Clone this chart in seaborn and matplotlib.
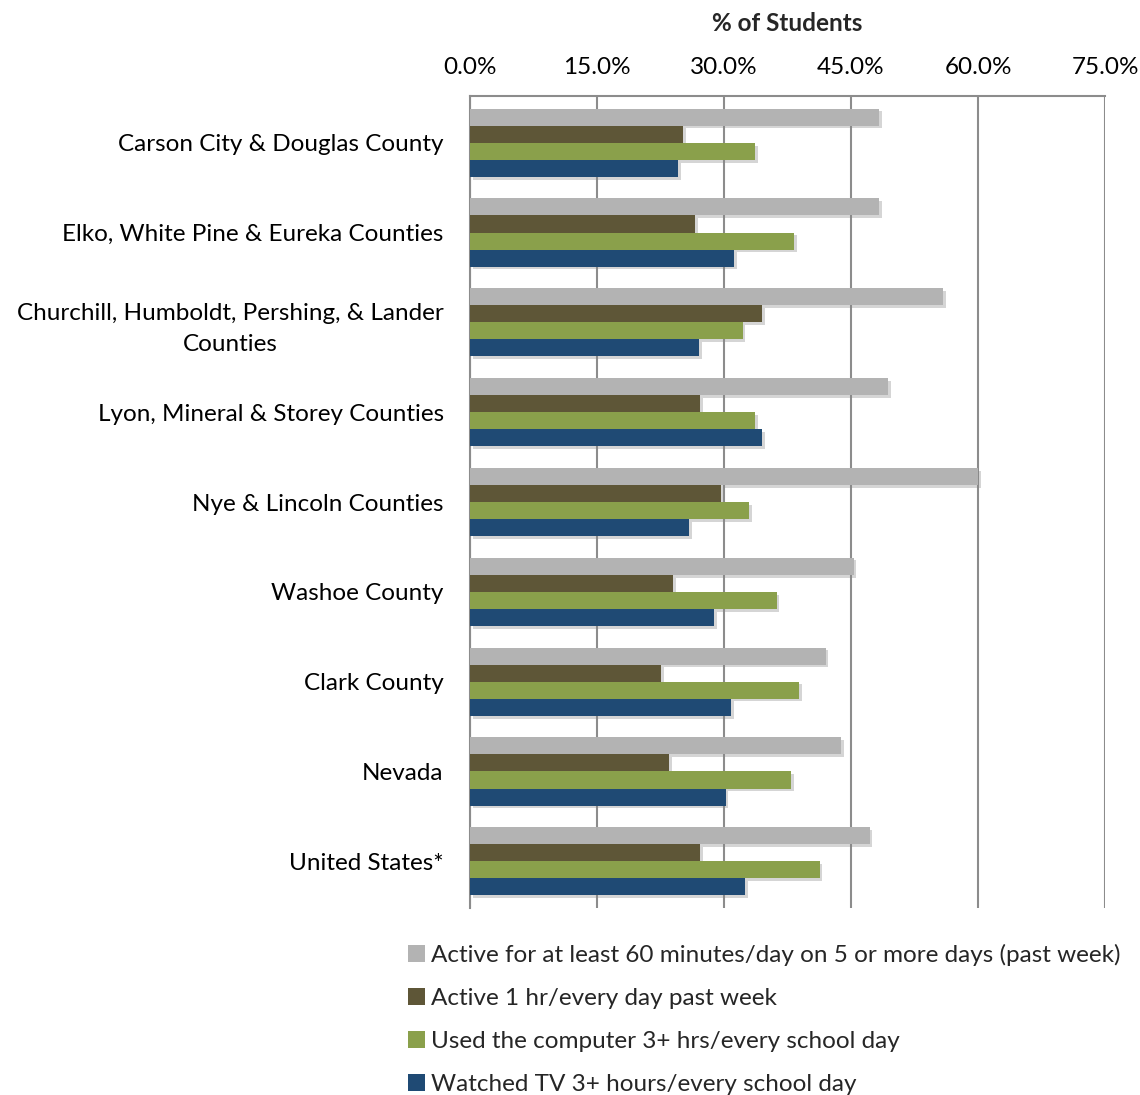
import matplotlib

matplotlib.use("Agg")
import matplotlib.pyplot as plt
import matplotlib.patheffects as pe
from matplotlib.patches import Patch
from matplotlib.ticker import FuncFormatter, MultipleLocator
import pandas as pd
import seaborn as sns

REGIONS = [
    "Carson City & Douglas County",
    "Elko, White Pine & Eureka Counties",
    "Churchill, Humboldt, Pershing, & Lander\nCounties",
    "Lyon, Mineral & Storey Counties",
    "Nye & Lincoln Counties",
    "Washoe County",
    "Clark County",
    "Nevada",
    "United States*",
]
SERIES = [
    "Active for at least 60 minutes/day on 5 or more days (past week)",
    "Active 1 hr/every day past week",
    "Used the computer 3+ hrs/every school day",
    "Watched TV 3+ hours/every school day",
]
ACTIVE_60 = [48.3, 48.3, 55.9, 49.4, 60.0, 45.3, 42.0, 43.8, 47.2]
ACTIVE_1HR = [25.2, 26.6, 34.5, 27.2, 29.6, 24.0, 22.6, 23.5, 27.2]
COMPUTER = [33.7, 38.3, 32.2, 33.7, 33.0, 36.2, 38.9, 37.9, 41.3]
TV = [24.6, 31.2, 27.1, 34.5, 25.9, 28.8, 30.8, 30.2, 32.5]
COLORS = ["#B3B3B3", "#5E5637", "#8AA04B", "#1F4A74"]
FS = 17.5

sns.set_theme(style="white")
plt.rcParams["font.family"] = ["Lato", "DejaVu Sans"]

rows = []
for values, name in zip([ACTIVE_60, ACTIVE_1HR, COMPUTER, TV], SERIES):
    for region, v in zip(REGIONS, values):
        rows.append({"region": region, "series": name, "pct": v})
df = pd.DataFrame(rows)

fig = plt.figure(figsize=(11.4, 10.95), dpi=100)
ax = fig.add_axes([0.4123, 0.1708, 0.557, 0.7415])

sns.barplot(
    data=df, x="pct", y="region", hue="series", order=REGIONS, hue_order=SERIES,
    palette=COLORS, width=0.76, orient="h", ax=ax, legend=False,
    saturation=1, errorbar=None,
)
shadow = [pe.SimplePatchShadow(offset=(2, -2), shadow_rgbFace="#888888", alpha=0.35), pe.Normal()]
for bar in ax.patches:
    bar.set_edgecolor("none")
    bar.set_path_effects(shadow)
    bar.set_zorder(3)

ax.set_xlim(0, 75)
ax.set_ylim(8.52, -0.52)
ax.xaxis.set_major_locator(MultipleLocator(15))
ax.xaxis.set_major_formatter(FuncFormatter(lambda v, _: f"{v:.1f}%"))
ax.xaxis.tick_top()
ax.xaxis.set_label_position("top")
ax.grid(axis="x", color="#8C8C8C", linewidth=1.5, zorder=0)
ax.set_axisbelow(True)
ax.tick_params(axis="x", length=0, pad=13, labelsize=FS, colors="black")
ax.tick_params(axis="y", length=0, pad=19, labelsize=FS, colors="black")
for lbl in ax.get_yticklabels():
    lbl.set_multialignment("center")
    lbl.set_linespacing(1.55)
ax.set_ylabel("")
ax.set_xlabel("% of Students", fontsize=FS, fontweight="bold", labelpad=19)
for side in ["right", "bottom"]:
    ax.spines[side].set_visible(False)
for side in ["top", "left"]:
    ax.spines[side].set_color("#8C8C8C")
    ax.spines[side].set_linewidth(1.5)

handles = [Patch(facecolor=c, edgecolor="none") for c in COLORS]
fig.legend(
    handles, SERIES, loc="upper left", bbox_to_anchor=(0.3495, 0.147),
    frameon=False, fontsize=FS, handlelength=0.7, handleheight=0.7,
    handletextpad=0.25, labelspacing=0.9, borderaxespad=0,
)

fig.savefig("out.png", dpi=100)
